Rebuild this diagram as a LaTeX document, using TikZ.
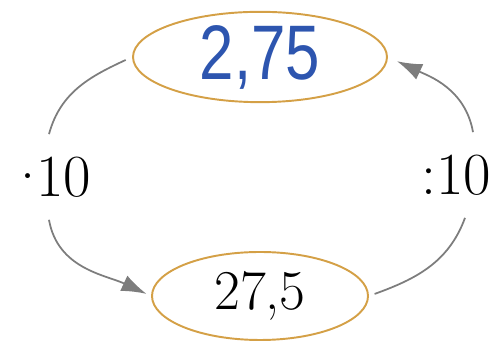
\documentclass[tikz,border=0pt]{standalone}
\usepackage{fontspec}
\newfontfamily\handfont{Liberation Sans}
\usetikzlibrary{shapes.geometric,arrows.meta}
\definecolor{ochre}{RGB}{212,160,70}
\definecolor{inkblue}{RGB}{45,85,175}
\definecolor{arcgray}{RGB}{125,125,125}
\begin{document}
\begin{tikzpicture}
  [ring/.style={ellipse,draw=ochre,line width=1.1pt,inner sep=0pt},
   op/.style={inner sep=0pt,minimum height=1.7cm,font=\fontsize{34}{40}\selectfont},
   arc/.style={draw=arcgray,line width=1pt},
   turn/.style={arc,-{Latex[length=5mm,width=3.4mm]}}]

  \useasboundingbox (0,0) rectangle (10.02,6.88);

  \node[ring,minimum width=5.08cm,minimum height=1.8cm,text=inkblue,
        font=\handfont\fontsize{40}{44}\selectfont] (top) at (5.2,5.74)
        {\scalebox{0.88}[1.1]{2,75}};
  \node[ring,minimum width=4.32cm,minimum height=1.76cm,
        font=\fontsize{32}{38}\selectfont] (bot) at (5.2,0.96) {27,5};
  \node[op] (mul) at (0.98,3.34) {·\kern-0.22em10};
  \node[op] (div) at (9.12,3.38) {:10};

  \draw[arc,shorten <=1.4mm] (top.west) to[out=205,in=75] (mul.north);
  \draw[turn,shorten >=1mm] (mul.south) to[out=-80,in=155] (bot.west);
  \draw[arc,shorten <=1.2mm] (bot.east) to[out=20,in=-110] ([xshift=1.8mm]div.south);
  \draw[turn,shorten >=2mm] ([xshift=3.4mm]div.north) to[out=100,in=-25] (top.east);

\end{tikzpicture}
\end{document}
